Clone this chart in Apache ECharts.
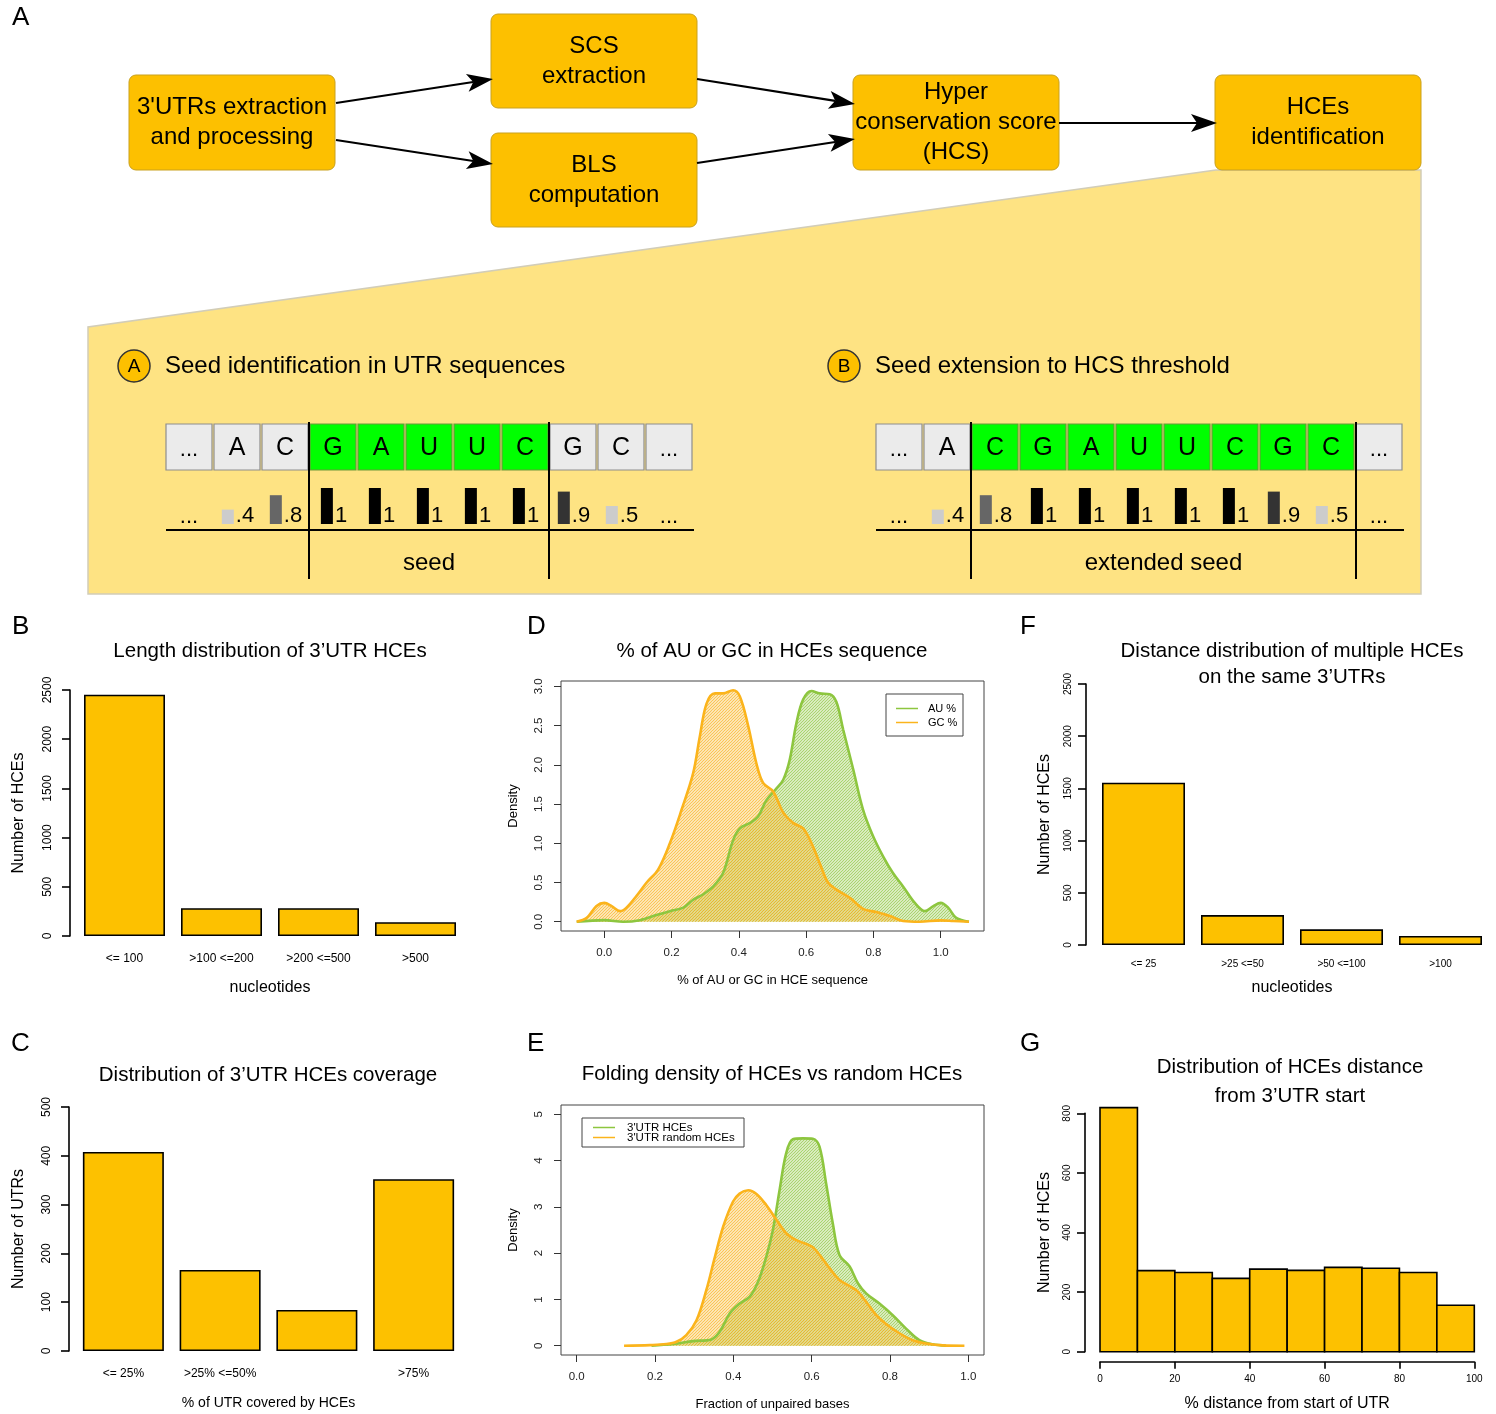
<!DOCTYPE html>
<html><head><meta charset="utf-8">
<script src="https://cdn.jsdelivr.net/npm/echarts@6/dist/echarts.min.js"></script>
<style>html,body{margin:0;padding:0;background:#fff}#c{width:1496px;height:1414px}</style>
</head><body><div id="c"></div>
<script>
// ---------------- DATA ----------------
const lengthCats = ['<= 100', '>100 <=200', '>200 <=500', '>500'];
const lengthCounts = [2452, 282, 282, 140];

const coverageCats = ['<= 25%', '>25% <=50%', '', '>75%'];
const coverageCounts = [408, 166, 84, 352];

const distCats = ['<= 25', '>25 <=50', '>50 <=100', '>100'];
const distCounts = [1555, 287, 150, 86];

const startBinEdges = [0, 10, 20, 30, 40, 50, 60, 70, 80, 90, 100];
const startCounts = [819, 272, 266, 246, 277, 273, 283, 280, 266, 156];

const densityTicksX = [0, 0.2, 0.4, 0.6, 0.8, 1.0];
const densityTicksYD = [0, 0.5, 1.0, 1.5, 2.0, 2.5, 3.0];
const densityTicksYE = [0, 1, 2, 3, 4, 5];

const auDensity = [[-0.082,0],[0,0.02],[0.056,0],[0.106,0.02],[0.155,0.085],[0.195,0.135],[0.235,0.18],[0.264,0.28],[0.294,0.35],[0.324,0.45],[0.353,0.62],[0.383,1.04],[0.403,1.19],[0.433,1.26],[0.457,1.34],[0.482,1.55],[0.512,1.70],[0.532,1.81],[0.551,2.06],[0.571,2.53],[0.591,2.83],[0.616,2.94],[0.64,2.91],[0.67,2.90],[0.69,2.80],[0.71,2.45],[0.74,1.94],[0.769,1.43],[0.799,1.09],[0.829,0.83],[0.858,0.62],[0.888,0.45],[0.923,0.24],[0.953,0.135],[0.978,0.2],[1.0,0.24],[1.022,0.18],[1.046,0.05],[1.084,0]];
const gcDensity = [[-0.082,0],[-0.052,0.05],[-0.023,0.2],[0,0.24],[0.022,0.2],[0.047,0.135],[0.066,0.18],[0.096,0.33],[0.126,0.5],[0.16,0.665],[0.195,1.0],[0.23,1.43],[0.264,1.89],[0.284,2.36],[0.304,2.78],[0.329,2.91],[0.353,2.91],[0.383,2.95],[0.403,2.87],[0.428,2.49],[0.452,2.02],[0.472,1.77],[0.502,1.66],[0.532,1.39],[0.561,1.26],[0.591,1.19],[0.616,1.0],[0.64,0.75],[0.665,0.5],[0.69,0.41],[0.73,0.305],[0.769,0.165],[0.809,0.123],[0.849,0.072],[0.888,0.01],[0.937,0.0],[1.0,0.017],[1.037,0.01],[1.084,0]];

const hceFold = [[0.191,0],[0.246,0.036],[0.297,0.1],[0.344,0.137],[0.365,0.3],[0.391,0.7],[0.416,0.91],[0.442,1.06],[0.463,1.38],[0.484,1.92],[0.501,2.5],[0.518,3.36],[0.535,4.16],[0.552,4.46],[0.578,4.48],[0.603,4.47],[0.62,4.3],[0.637,3.5],[0.654,2.64],[0.671,1.96],[0.697,1.71],[0.718,1.35],[0.739,1.13],[0.773,0.91],[0.807,0.66],[0.841,0.37],[0.875,0.12],[0.909,0.03],[0.943,0]];
const randFold = [[0.121,0],[0.187,0.014],[0.229,0.036],[0.255,0.086],[0.28,0.23],[0.306,0.55],[0.331,1.2],[0.353,1.92],[0.374,2.57],[0.399,3.11],[0.416,3.29],[0.438,3.36],[0.459,3.28],[0.484,3.04],[0.51,2.72],[0.535,2.43],[0.561,2.28],[0.586,2.2],[0.603,2.13],[0.624,1.92],[0.646,1.67],[0.671,1.42],[0.697,1.29],[0.718,1.17],[0.739,0.95],[0.765,0.66],[0.79,0.47],[0.824,0.27],[0.858,0.12],[0.892,0.05],[0.935,0.007],[0.99,0]];

// diagram content
const seqA = ['...', 'A', 'C', 'G', 'A', 'U', 'U', 'C', 'G', 'C', '...'];
const seqB = ['...', 'A', 'C', 'G', 'A', 'U', 'U', 'C', 'G', 'C', '...'];
const blsScores = [null, 0.4, 0.8, 1, 1, 1, 1, 1, 0.9, 0.5, null];
const blsLabels = ['...', '.4', '.8', '1', '1', '1', '1', '1', '.9', '.5', '...'];

// ---------------- STYLE ----------------
const FONT = "'Liberation Sans', Arial, Helvetica, sans-serif";
const BAR = '#FDC100';
const GREEN = '#8DC63F';
const ORANGE = '#FBB41C';

function hatch(color) {
  const c = document.createElement('canvas');
  c.width = 3; c.height = 3;
  const g = c.getContext('2d');
  g.strokeStyle = color; g.lineWidth = 1.3;
  g.beginPath();
  g.moveTo(0, 3); g.lineTo(3, 0);
  g.moveTo(-1, 1); g.lineTo(1, -1);
  g.moveTo(2, 4); g.lineTo(4, 2);
  g.stroke();
  return c;
}

const mctx = document.createElement('canvas').getContext('2d');
function tw(t, size) { mctx.font = size + 'px ' + FONT; return mctx.measureText(t).width; }

function txt(text, x, y, size, align, vAlign, color) {
  align = align || 'center'; vAlign = vAlign || 'middle';
  return { type: 'text', silent: true, z: 10, style: { text: text, x: x, y: y, font: size + 'px ' + FONT, fill: color || '#000',
    textAlign: align, textVerticalAlign: vAlign, align: align, verticalAlign: vAlign } };
}
function rect(x, y, w, h, fill, stroke, lw, r) {
  return { type: 'rect', silent: true, z: 5, shape: { x: x, y: y, width: w, height: h, r: r || 0 }, style: { fill: fill, stroke: stroke, lineWidth: lw || 1 } };
}
function line(x1, y1, x2, y2, lw, color) {
  return { type: 'line', silent: true, z: 6, shape: { x1: x1, y1: y1, x2: x2, y2: y2 }, style: { stroke: color || '#000', lineWidth: lw || 2 } };
}
function arrow(x1, y1, x2, y2) {
  const a = Math.atan2(y2 - y1, x2 - x1), L = 26, W = 9, N = 6;
  const c = Math.cos(a), s = Math.sin(a);
  const bx = x2 - L * c, by = y2 - L * s, nx = x2 - (L - N) * c, ny = y2 - (L - N) * s;
  const px = -s, py = c;
  return [line(x1, y1, nx, ny, 2.2),
    { type: 'polygon', silent: true, z: 6, shape: { points: [[x2, y2], [bx + px * W, by + py * W], [nx, ny], [bx - px * W, by - py * W]] }, style: { fill: '#000' } }];
}

// ---------------- DIAGRAM (panel A) ----------------
const G = [];
G.push(txt('A', 12, 18, 26, 'left'));
G.push({ type: 'polygon', silent: true, z: 1, shape: { points: [[1216, 170], [1421, 170], [1421, 594], [88, 594], [88, 327]] },
  style: { fill: '#FEE383', stroke: '#D2CDB8', lineWidth: 1.5 } });
const boxes = [
  { x: 129, y: 75, h: 95, lines: ["3'UTRs extraction", 'and processing'] },
  { x: 491, y: 14, h: 94, lines: ['SCS', 'extraction'] },
  { x: 491, y: 133, h: 94, lines: ['BLS', 'computation'] },
  { x: 853, y: 75, h: 95, lines: ['Hyper', 'conservation score', '(HCS)'] },
  { x: 1215, y: 75, h: 95, lines: ['HCEs', 'identification'] }
];
boxes.forEach(b => {
  G.push(rect(b.x, b.y, 206, b.h, '#FDC000', '#C9A11E', 1, 7));
  const cy = b.y + b.h / 2, n = b.lines.length;
  b.lines.forEach((t, i) => G.push(txt(t, b.x + 103, cy + (i - (n - 1) / 2) * 30, 24)));
});
[[336, 103, 493, 79], [336, 140, 493, 164], [697, 79, 855, 104], [697, 163, 855, 139], [1059, 123, 1217, 123]]
  .forEach(a => arrow.apply(null, a).forEach(e => G.push(e)));

function seedPanel(x0, seq, gFrom, gTo, letter, title, label, lx1, lx2) {
  G.push({ type: 'circle', silent: true, z: 6, shape: { cx: x0 - 32, cy: 366, r: 16 }, style: { fill: '#FDC000', stroke: '#333', lineWidth: 1.5 } });
  G.push(txt(letter, x0 - 32, 367, 19));
  G.push(txt(title, x0 - 1, 366, 24, 'left'));
  seq.forEach((s, i) => {
    const bx = x0 + i * 48;
    const green = i >= gFrom && i <= gTo;
    G.push(rect(bx, 424, 46, 46, green ? '#00FF00' : '#EBEBEB', green ? '#6B9A3A' : '#8E8E8E', 1.2));
    G.push(txt(s, bx + 23, s === '...' ? 450 : 448, s === '...' ? 22 : 25));
    const v = blsScores[i], lab = blsLabels[i];
    if (v === null) {
      G.push(txt(lab, bx + 23, 517, 22));
    } else {
      const w = 12 + 2 + tw(lab, 22);
      const left = bx + 23 - w / 2 + 1;
      const h = 36 * v;
      const col = v >= 1 ? '#000' : v >= 0.9 ? '#333' : v >= 0.8 ? '#666' : '#CCCCCC';
      G.push(rect(left, 524 - h, 12, h, col, null, 0));
      G.push(txt(lab, left + 14, 516, 22, 'left'));
    }
  });
  G.push(line(x0, 530, x0 + 528, 530, 2));
  G.push(line(lx1, 422, lx1, 579, 2));
  G.push(line(lx2, 422, lx2, 579, 2));
  G.push(txt(label, (lx1 + lx2) / 2, 563, 24));
}
seedPanel(166, seqA, 3, 7, 'A', 'Seed identification in UTR sequences', 'seed', 309, 549);
seedPanel(876, seqB, 2, 9, 'B', 'Seed extension to HCS threshold', 'extended seed', 971, 1356);

[['B', 12, 627], ['C', 11, 1044], ['D', 527, 627], ['E', 527, 1044], ['F', 1020, 627], ['G', 1020, 1044]]
  .forEach(p => G.push(txt(p[0], p[1], p[2], 26, 'left')));
[['Length distribution of 3\u2019UTR HCEs', 270, 651], ['Distribution of 3\u2019UTR HCEs coverage', 268, 1075],
 ['% of AU or GC in HCEs sequence', 772, 651], ['Folding density of HCEs vs random HCEs', 772, 1074],
 ['Distance distribution of multiple HCEs', 1292, 651], ['on the same 3\u2019UTRs', 1292, 677],
 ['Distribution of HCEs distance', 1290, 1067], ['from 3\u2019UTR start', 1290, 1096]]
  .forEach(t => G.push(txt(t[0], t[1], t[2], 20.5)));

// legends
G.push(rect(886, 694, 77, 42, '#fff', '#444', 1));
G.push(line(896, 708.5, 918, 708.5, 1.5, GREEN)); G.push(txt('AU %', 928, 708.5, 11, 'left'));
G.push(line(896, 722.5, 918, 722.5, 1.5, ORANGE)); G.push(txt('GC %', 928, 722.5, 11, 'left'));
G.push(rect(582, 1118, 162, 29, '#fff', '#444', 1));
G.push(line(593, 1127.5, 615, 1127.5, 1.5, GREEN)); G.push(txt("3'UTR HCEs", 627, 1127.5, 11.5, 'left'));
G.push(line(593, 1137.5, 615, 1137.5, 1.5, ORANGE)); G.push(txt("3'UTR random HCEs", 627, 1137.5, 11.5, 'left'));

// ---------------- CHART OPTION ----------------
const axLine = { show: true, onZero: false, lineStyle: { color: '#000', width: 1.6 } };
const axTick = (len) => ({ show: true, length: len, lineStyle: { color: '#000', width: 1.6 } });
const nameStyle = (s) => ({ fontSize: s, color: '#000', fontFamily: FONT });
const lab = (s, m, extra) => Object.assign({ fontSize: s, margin: m, color: '#000', fontFamily: FONT }, extra || {});
const gridBase = { containLabel: false, outerBoundsMode: 'none' };

const catX = (gi, data, fs, m, name, ns, gap) => ({ gridIndex: gi, type: 'category', data: data,
  axisLine: { show: false, onZero: false }, axisTick: { show: false }, splitLine: { show: false },
  axisLabel: lab(fs, m, { interval: 0 }), name: name, nameLocation: 'middle', nameGap: gap, nameTextStyle: nameStyle(ns) });
const valY = (gi, max, itv, off, fs, m, tl, name, gap) => ({ gridIndex: gi, type: 'value', min: 0, max: max, interval: itv, offset: off,
  axisLine: axLine, axisTick: axTick(tl), splitLine: { show: false }, axisLabel: lab(fs, m, { rotate: 90, formatter: v => String(v) }),
  name: name, nameLocation: 'middle', nameGap: gap, nameTextStyle: nameStyle(16) });
const densX = (gi, min, max, name) => ({ gridIndex: gi, type: 'value', min: min, max: max,
  axisLine: { show: false, onZero: false }, splitLine: { show: false },
  axisTick: { show: true, length: 7, customValues: densityTicksX, lineStyle: { color: '#333', width: 1 } },
  axisLabel: lab(11.5, 16, { customValues: densityTicksX, formatter: v => v.toFixed(1), color: '#222' }),
  name: name, nameLocation: 'middle', nameGap: 42.5, nameTextStyle: nameStyle(13) });
const densY = (gi, min, max, ticks, fmt) => ({ gridIndex: gi, type: 'value', min: min, max: max,
  axisLine: { show: false, onZero: false }, splitLine: { show: false },
  axisTick: { show: true, length: 7, customValues: ticks, lineStyle: { color: '#333', width: 1 } },
  axisLabel: lab(11.5, 16, { customValues: ticks, formatter: fmt, rotate: 90, color: '#222' }),
  name: 'Density', nameLocation: 'middle', nameGap: 41, nameTextStyle: nameStyle(13) });

const barSeries = (gi, data, w) => ({ type: 'bar', xAxisIndex: gi, yAxisIndex: gi, data: data, barWidth: w, silent: true,
  itemStyle: { color: BAR, borderColor: '#000', borderWidth: 1.6 } });
const densSeries = (gi, name, data, color, hatchColor) => ({ type: 'line', name: name, xAxisIndex: gi, yAxisIndex: gi, data: data,
  smooth: 0.35, symbol: 'none', silent: true,
  lineStyle: { color: color, width: 2.6 }, itemStyle: { color: color },
  areaStyle: { color: { image: hatch(hatchColor), repeat: 'repeat' }, opacity: 1 } });

const histData = startCounts.map((c, i) => [startBinEdges[i], startBinEdges[i + 1], c]);

const option = {
  animation: false,
  backgroundColor: '#fff',
  textStyle: { fontFamily: FONT },
  grid: [
    Object.assign({ left: 76, top: 690, width: 388, height: 246 }, gridBase),
    Object.assign({ left: 75, top: 1107, width: 387, height: 244 }, gridBase),
    Object.assign({ left: 561, top: 681, width: 423, height: 250, show: true, borderColor: '#444', borderWidth: 1, backgroundColor: 'rgba(0,0,0,0)' }, gridBase),
    Object.assign({ left: 561, top: 1105, width: 423, height: 250, show: true, borderColor: '#444', borderWidth: 1, backgroundColor: 'rgba(0,0,0,0)' }, gridBase),
    Object.assign({ left: 1094, top: 684, width: 396, height: 261 }, gridBase),
    Object.assign({ left: 1100, top: 1113.3, width: 374.3, height: 238.4 }, gridBase)
  ],
  xAxis: [
    catX(0, lengthCats, 12, 17, 'nucleotides', 16, 44),
    catX(1, coverageCats, 12, 17, '% of UTR covered by HCEs', 14, 45),
    densX(2, -0.1286, 1.1286, '% of AU or GC in HCE sequence'),
    densX(3, -0.04, 1.04, 'Fraction of unpaired bases'),
    catX(4, distCats, 10, 14, 'nucleotides', 16, 35),
    { gridIndex: 5, type: 'value', min: 0, max: 100, interval: 20, offset: 10, axisLine: axLine, axisTick: axTick(7),
      splitLine: { show: false }, axisLabel: lab(10, 13), name: '% distance from start of UTR', nameLocation: 'middle',
      nameGap: 34, nameTextStyle: nameStyle(16) }
  ],
  yAxis: [
    valY(0, 2500, 500, 6, 12, 16, 8, 'Number of HCEs', 43),
    valY(1, 500, 100, 6, 12, 16, 8, 'Number of UTRs', 42),
    densY(2, -0.118, 3.068, densityTicksYD, v => v.toFixed(1)),
    densY(3, -0.2, 5.2, densityTicksYE, v => String(v)),
    valY(4, 2500, 500, 8, 10, 13, 8, 'Number of HCEs', 33),
    valY(5, 800, 200, 15, 10, 13, 8, 'Number of HCEs', 32)
  ],
  series: [
    barSeries(0, lengthCounts, 81),
    barSeries(1, coverageCounts, 81),
    densSeries(2, 'AU %', auDensity, GREEN, 'rgba(141,198,63,0.75)'),
    densSeries(2, 'GC %', gcDensity, ORANGE, 'rgba(248,178,30,0.75)'),
    densSeries(3, "3'UTR HCEs", hceFold, GREEN, 'rgba(141,198,63,0.75)'),
    densSeries(3, "3'UTR random HCEs", randFold, ORANGE, 'rgba(248,178,30,0.75)'),
    barSeries(4, distCounts, 83),
    { type: 'custom', xAxisIndex: 5, yAxisIndex: 5, data: histData, silent: true, encode: { x: [0, 1], y: 2 },
      renderItem: function (params, api) {
        const p0 = api.coord([api.value(0), api.value(2)]);
        const p1 = api.coord([api.value(1), 0]);
        return { type: 'rect', shape: { x: p0[0], y: p0[1], width: p1[0] - p0[0], height: p1[1] - p0[1] },
          style: { fill: BAR, stroke: '#000', lineWidth: 1.6 } };
      } }
  ],
  graphic: { elements: G }
};

const chart = echarts.init(document.getElementById('c'), null, { renderer: 'canvas', width: 1496, height: 1414 });
chart.setOption(option);
</script>
</body></html>
